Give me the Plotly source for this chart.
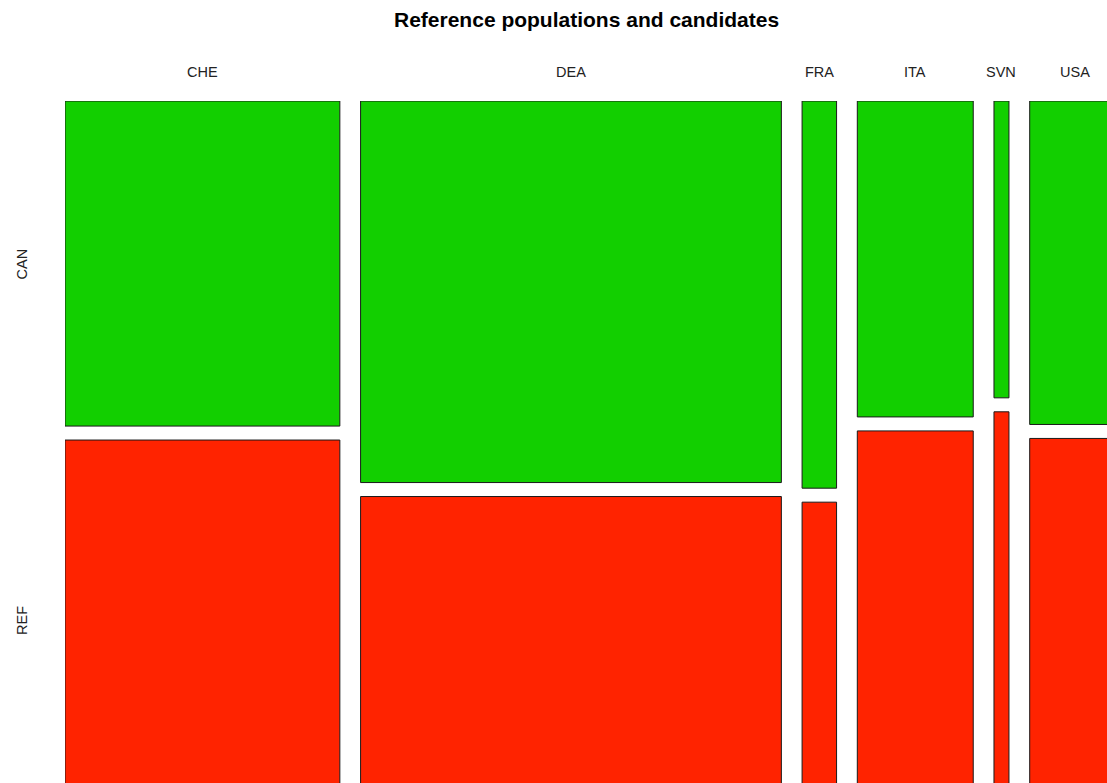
import plotly.graph_objects as go

# Data
countries = ["CHE", "DEA", "FRA", "ITA", "SVN", "USA"]
groups = ["CAN", "REF"]
can_counts = [261, 469, 39, 107, 13, 85]
ref_counts = [289, 373, 30, 125, 17, 95]
colors = {"CAN": "#12CF00", "REF": "#FF2300"}
title = "Reference populations and candidates"

# Mosaic geometry computed from counts
gap_x = 0.0218
gap_y = 0.0204
totals = [c + r for c, r in zip(can_counts, ref_counts)]
grand = sum(totals)
widths = [t / grand for t in totals]
lefts = []
pos = 0.0
for w in widths:
    lefts.append(pos)
    pos += w + gap_x
centers = [l + w / 2 for l, w in zip(lefts, widths)]
can_frac = [c / t for c, t in zip(can_counts, totals)]

fig = go.Figure()
fig.add_trace(go.Bar(
    x=centers, width=widths, base=[0] * len(countries), y=can_frac,
    marker=dict(color=colors["CAN"], line=dict(color="#1a1a1a", width=1)),
    name="CAN", hoverinfo="skip"))
fig.add_trace(go.Bar(
    x=centers, width=widths, base=[f + gap_y for f in can_frac],
    y=[1 - f for f in can_frac],
    marker=dict(color=colors["REF"], line=dict(color="#1a1a1a", width=1)),
    name="REF", hoverinfo="skip"))

annotations = []
for c, name in zip(centers, countries):
    annotations.append(dict(x=c, y=1.0425, xref="x", yref="paper", text=name,
                            showarrow=False, xanchor="center", yanchor="middle",
                            font=dict(family="Liberation Sans, Arial", size=14.5, color="#222")))
row_centers = [can_frac[0] / 2, can_frac[0] + gap_y + (1 - can_frac[0]) / 2]
for yc, g in zip(row_centers, groups):
    annotations.append(dict(x=-0.0413, y=yc, xref="paper", yref="y", text=g,
                            showarrow=False, textangle=-90, xanchor="center", yanchor="middle",
                            font=dict(family="Liberation Sans, Arial", size=14.5, color="#222")))
annotations.append(dict(x=(pos - gap_x) / 2 - 0.006, y=1.1202, xref="x", yref="paper",
                        text="<b>" + title + "</b>", showarrow=False,
                        xanchor="center", yanchor="middle",
                        font=dict(family="Liberation Sans, Arial", size=21, color="#000")))

fig.update_layout(
    width=1107, height=783,
    margin=dict(l=65, r=0, t=101, b=0),
    paper_bgcolor="white", plot_bgcolor="white",
    barmode="overlay", bargap=0, showlegend=False,
    xaxis=dict(range=[0, 1.0957], visible=False, fixedrange=True),
    yaxis=dict(range=[0.9956, 0], visible=False, fixedrange=True),
    annotations=annotations,
)

fig.write_html("out.html", config={"displayModeBar": False, "staticPlot": True},
               post_script="document.body.style.margin='0';document.body.style.overflow='hidden';")
